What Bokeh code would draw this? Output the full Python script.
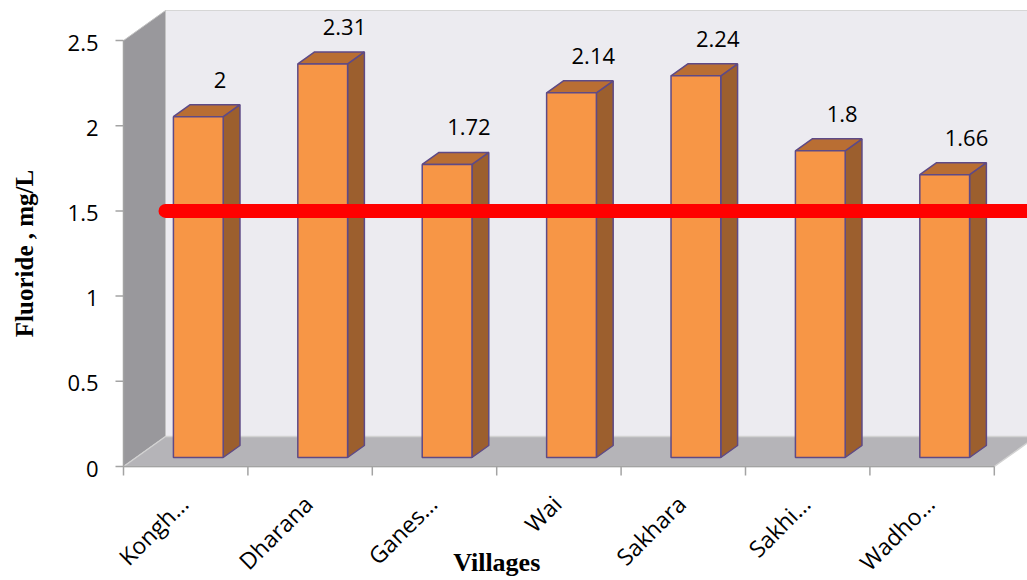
import math
import numpy as np
from bokeh.plotting import figure
from bokeh.models import Range1d
from bokeh.core.properties import value
from bokeh.embed import file_html
from bokeh.resources import INLINE

# Fluoride concentration measured in each village (mg/L)
villages = ["Kongh…", "Dharana", "Ganes…", "Wai", "Sakhara", "Sakhi…", "Wadho…"]
fluoride = [2, 2.31, 1.72, 2.14, 2.24, 1.8, 1.66]
permissible_limit = 1.5
y_ticks = [0, 0.5, 1, 1.5, 2, 2.5]
y_tick_labels = ["0", "0.5", "1", "1.5", "2", "2.5"]

# drawing scale: pixels per category and per mg/L
PX_PER_CAT = 124.4
PX_PER_UNIT = 170.4
W, H = 1027, 580
ORIGIN_X, ORIGIN_Y = 123, 466       # where the front axes meet, in canvas pixels
px = 1.0 / PX_PER_CAT
py = 1.0 / PX_PER_UNIT

# Pseudo 3-D box geometry, in data units
WALL_DX, WALL_DY = 42 * px, 30 * py   # depth vector of floor and side wall
ROW_FRONT = 0.3                       # bar row starts this far into the depth
ROW_DEPTH = 0.4                       # and is this deep
BAR_W = 0.4

n = len(villages)
y_top = y_ticks[-1]
vals = np.array(fluoride, dtype=float)

p = figure(width=W, height=H,
           x_range=Range1d(-ORIGIN_X * px, (W - ORIGIN_X) * px),
           y_range=Range1d(-(H - ORIGIN_Y) * py, ORIGIN_Y * py),
           x_axis_type=None, y_axis_type=None,
           output_backend="svg", toolbar_location=None,
           min_border=0)
p.outline_line_color = None
p.grid.visible = False
p.background_fill_color = "white"

# back wall, side wall, floor
p.quad(left=[WALL_DX], right=[n + WALL_DX], bottom=[WALL_DY], top=[y_top + WALL_DY],
       fill_color="#ECEBF0", line_color="#D6D6D6", line_width=1)
p.patch(x=[0, 0, WALL_DX, WALL_DX], y=[0, y_top, y_top + WALL_DY, WALL_DY],
        fill_color="#99989C", line_color="#C4C4C4", line_width=1)
p.patch(x=[0, n, n + WALL_DX, WALL_DX], y=[0, 0, WALL_DY, WALL_DY],
        fill_color="#B5B4B8", line_color="#D2D2D2", line_width=1.5)

# bars
dx_f, dy_f = ROW_FRONT * WALL_DX, ROW_FRONT * WALL_DY
ddx, ddy = ROW_DEPTH * WALL_DX, ROW_DEPTH * WALL_DY
x0 = np.arange(n) + 0.5 - BAR_W / 2 + dx_f
x1 = x0 + BAR_W
base = dy_f
top = base + vals

side_xs = [[a, a + ddx, a + ddx, a] for a in x1]
side_ys = [[base, base + ddy, t + ddy, t] for t in top]
top_xs = [[a, b, b + ddx, a + ddx] for a, b in zip(x0, x1)]
top_ys = [[t, t, t + ddy, t + ddy] for t in top]

outline = "#5E4A86"
p.patches(xs=side_xs, ys=side_ys, fill_color="#9C5F2E", line_color=outline, line_width=1.5)
p.patches(xs=top_xs, ys=top_ys, fill_color="#B96E33", line_color=outline, line_width=1.5)
p.quad(left=x0, right=x1, bottom=base, top=top,
       fill_color="#F79646", line_color=outline, line_width=1.5)

# permissible limit line
p.line(x=[WALL_DX, n + WALL_DX], y=[permissible_limit, permissible_limit],
       line_color="#FF0000", line_width=14, line_cap="round")

# value labels over each bar
p.text(x=x0 + BAR_W / 2 + ddx, y=top + ddy, text=[f"{v:g}" for v in fluoride],
       text_align="center", text_baseline="alphabetic", x_offset=5, y_offset=-25,
       text_font=value("Open Sans"), text_font_size="22px", text_color="black")

axis_gray = "#A3A3A3"
TICK = 8

# value axis: rule, ticks, labels, title
p.segment(x0=[0], y0=[0], x1=[0], y1=[y_top], line_color=axis_gray, line_width=1.5)
p.segment(x0=[-TICK * px] * len(y_ticks), y0=y_ticks, x1=[0] * len(y_ticks), y1=y_ticks,
          line_color=axis_gray, line_width=1.5)
p.text(x=[0] * len(y_ticks), y=y_ticks, text=y_tick_labels,
       text_align="right", text_baseline="middle", x_offset=-25, y_offset=2,
       text_font=value("Open Sans"), text_font_size="22px", text_color="black")
p.text(x=[0], y=[y_top / 2], text=["Fluoride , mg/L"], angle=math.pi / 2,
       text_align="center", text_baseline="middle", x_offset=-99,
       text_font=value("Liberation Serif"), text_font_style="bold",
       text_font_size="25px", text_color="black")

# category axis: rule, separators between villages, rotated names, title
bounds = list(range(n + 1))
centers = [i + 0.5 for i in range(n)]
p.segment(x0=[0], y0=[0], x1=[n], y1=[0], line_color=axis_gray, line_width=1.5)
p.segment(x0=bounds, y0=[0] * len(bounds), x1=bounds, y1=[-9 * py] * len(bounds),
          line_color=axis_gray, line_width=1.5)
p.text(x=centers, y=[0] * n, text=villages, angle=math.pi / 4,
       text_align="right", text_baseline="middle", x_offset=-2, y_offset=33,
       text_font=value("Open Sans"), text_font_size="23px", text_color="black")
p.text(x=[3.0], y=[0], text=["Villages"], text_align="center", text_baseline="middle",
       y_offset=96, text_font=value("Liberation Serif"), text_font_style="bold",
       text_font_size="26px", text_color="black")

open("out.html", "w").write(file_html(p, INLINE))
